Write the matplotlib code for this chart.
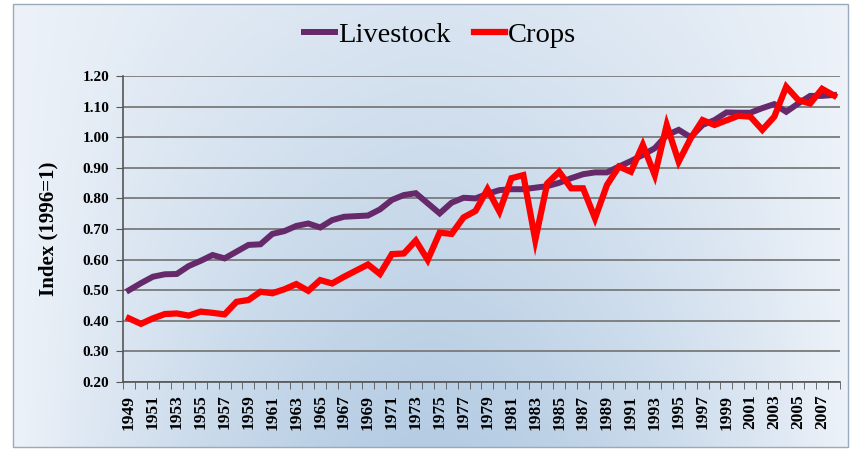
import matplotlib.pyplot as plt
import numpy as np
from matplotlib.patches import Rectangle

# Data (index, 1996 = 1)
years = list(range(1949, 2009))
livestock = [0.50, 0.523, 0.544, 0.552, 0.553, 0.579, 0.596, 0.615, 0.604, 0.626,
             0.648, 0.650, 0.684, 0.693, 0.710, 0.718, 0.705, 0.729, 0.740, 0.742,
             0.744, 0.764, 0.795, 0.811, 0.817, 0.784, 0.751, 0.786, 0.802, 0.800,
             0.815, 0.827, 0.830, 0.830, 0.835, 0.840, 0.851, 0.866, 0.879, 0.885,
             0.885, 0.904, 0.922, 0.942, 0.964, 1.007, 1.024, 1.000, 1.040, 1.056,
             1.081, 1.080, 1.080, 1.095, 1.108, 1.083, 1.110, 1.135, 1.135, 1.138]
crops = [0.408, 0.390, 0.408, 0.422, 0.424, 0.417, 0.430, 0.426, 0.421, 0.462,
         0.468, 0.495, 0.490, 0.503, 0.520, 0.498, 0.533, 0.522, 0.544, 0.564,
         0.584, 0.553, 0.618, 0.620, 0.662, 0.599, 0.688, 0.684, 0.738, 0.759,
         0.830, 0.757, 0.866, 0.876, 0.664, 0.849, 0.887, 0.833, 0.833, 0.735,
         0.844, 0.904, 0.887, 0.975, 0.876, 1.040, 0.920, 0.996, 1.056, 1.040,
         1.055, 1.070, 1.067, 1.024, 1.067, 1.165, 1.122, 1.110, 1.158, 1.136]
yticks = [0.20, 0.30, 0.40, 0.50, 0.60, 0.70, 0.80, 0.90, 1.00, 1.10, 1.20]

fig = plt.figure(figsize=(8.54, 4.5), dpi=100)
fig.patch.set_facecolor('white')

# gradient background inside the frame
bg = fig.add_axes([13/854, 3/450, 835/854, 443/450])
gx = np.linspace(-1, 1, 300)
gy = np.linspace(0, 1, 200)
X, Y = np.meshgrid(gx, gy)
shade = np.clip(1 - np.abs(X) ** 1.6, 0, 1) * (0.35 + 0.65 * Y)
light = np.array([0.93, 0.95, 0.975])
dark = np.array([0.71, 0.80, 0.89])
img = light + (dark - light) * shade[..., None]
bg.imshow(img, aspect='auto', origin='upper', extent=[0, 1, 0, 1])
bg.set_axis_off()
fig.add_artist(Rectangle((13/854, 3/450), 835/854, 443/450, transform=fig.transFigure,
                         fill=False, edgecolor='#9aaabb', linewidth=1))

ax = fig.add_axes([123/854, 1 - 382/450, 717/854, 306/450])
ax.patch.set_alpha(0)
x = np.arange(len(years))
ax.plot(x, livestock, color='#66296a', linewidth=4.3, solid_joinstyle='miter', label='Livestock', zorder=3)
ax.plot(x, crops, color='#ff0000', linewidth=4.5, solid_joinstyle='miter', label='Crops', zorder=4)

ax.set_ylim(0.20, 1.20)
ax.set_yticks(yticks)
ax.set_yticklabels([f'{v:.2f}' for v in yticks], fontfamily='Liberation Serif',
                   fontweight='bold', fontsize=11)
ax.set_xlim(-0.5, len(years) - 0.5)
ax.set_xticks(x[::2])
ax.set_xticklabels([str(y) for y in years[::2]], rotation=90, fontfamily='Liberation Serif',
                   fontweight='bold', fontsize=12.5)
ax.tick_params(axis='x', length=0, pad=9)
ax.set_xticks(np.arange(-0.5, len(years), 1), minor=True)
ax.tick_params(axis='x', which='minor', length=5, color='#555555')
ax.tick_params(axis='y', length=5, color='#555555', pad=5)
ax.yaxis.grid(True, color='#7a7a7a', linewidth=1.3)
ax.set_axisbelow(True)
for s in ['top', 'right']:
    ax.spines[s].set_visible(False)
for s in ['left', 'bottom']:
    ax.spines[s].set_color('#555555')
    ax.spines[s].set_linewidth(1.2)
ax.set_ylabel('Index (1996=1)', fontfamily='Liberation Serif', fontweight='bold',
              fontsize=15, labelpad=17)

fig.legend(loc='center', bbox_to_anchor=(440/854, 1 - 35/450), ncol=2, frameon=False,
           prop={'family': 'Liberation Serif', 'size': 20.5}, handlelength=1.1,
           handletextpad=0.1, columnspacing=0.8)

fig.savefig('out.png', dpi=100)
